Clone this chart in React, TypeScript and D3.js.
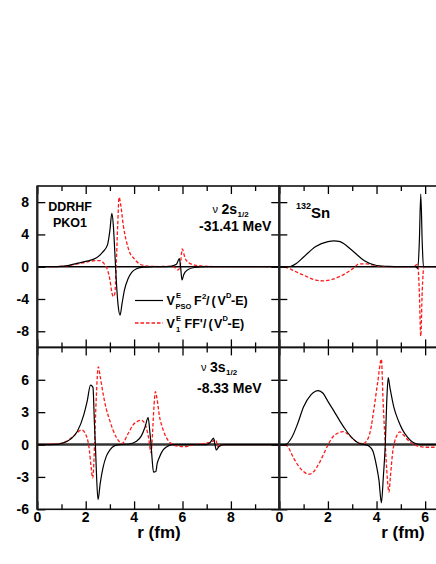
import React, { useRef, useEffect } from 'react';
import * as d3 from 'd3';

type Pt = [number, number];

// nu 2s1/2, r in fm, left panel
const tlBlack: Pt[] = [
  [0, 0], [0.8, 0.02], [1.2, 0.1], [1.63, 0.42], [2.0, 0.65], [2.45, 1.1], [2.7, 1.8], [2.9, 2.7],
  [3.0, 4.5], [3.08, 6.6], [3.14, 5.2], [3.2, 2.0], [3.26, -1.5], [3.34, -4.8], [3.42, -6.0],
  [3.5, -4.6], [3.6, -2.9], [3.75, -1.5], [3.9, -0.7], [4.1, -0.25], [4.4, -0.05], [4.8, 0],
  [5.5, 0.05], [5.75, 0.3], [5.87, 1.0], [5.92, 0], [5.98, -1.65], [6.05, -1.0], [6.2, -0.4],
  [6.5, -0.1], [7, 0], [10, 0],
];
const tlRed: Pt[] = [
  [0, 0], [0.8, 0.02], [1.2, 0.1], [1.6, 0.3], [2.0, 0.55], [2.4, 0.75], [2.6, 0.75], [2.75, 0.4],
  [2.9, -0.4], [3.0, -1.6], [3.08, -3.2], [3.14, -3.7], [3.2, -3.4], [3.26, 0], [3.32, 5.0],
  [3.38, 8.6], [3.45, 7.6], [3.55, 5.2], [3.67, 3.3], [3.8, 1.9], [4.0, 1.0], [4.2, 0.4],
  [4.5, 0.1], [5.0, 0.02], [5.6, 0.05], [5.82, -0.4], [5.9, 0], [5.99, 2.2], [6.1, 1.1],
  [6.25, 0.5], [6.5, 0.2], [7, 0.05], [7.5, 0], [10, 0],
];
// 132Sn, right panel
const trBlack: Pt[] = [
  [0, 0], [0.4, 0], [0.7, 0.4], [1.0, 1.2], [1.5, 2.5], [2.0, 3.1], [2.25, 3.2], [2.5, 3.1],
  [3.0, 2.0], [3.5, 0.75], [4.0, 0.15], [4.5, 0.03], [5.0, 0], [5.6, 0], [5.7, -0.2], [5.76, 3],
  [5.82, 9.0], [5.88, 3], [5.93, 0], [6.0, 0], [6.5, 0],
];
const trRed: Pt[] = [
  [0, 0], [0.3, -0.1], [0.6, -0.5], [1.0, -1.05], [1.5, -1.65], [1.8, -1.75], [2.1, -1.65],
  [2.5, -1.2], [3.0, -0.3], [3.3, 0.35], [3.6, 0.35], [4.0, 0.1], [4.5, 0], [5.5, 0],
  [5.69, 0.3], [5.76, -3], [5.82, -8.6], [5.88, -3], [5.95, 0], [6.5, 0],
];
// nu 3s1/2
const blBlack: Pt[] = [
  [0, 0], [0.8, 0.02], [1.0, 0.1], [1.38, 0.5], [1.65, 1.2], [1.92, 2.75], [2.06, 4.0], [2.2, 5.5],
  [2.3, 5.3], [2.36, 2], [2.4, 0], [2.45, -3], [2.51, -5.1], [2.6, -3.6], [2.72, -2.1],
  [2.85, -1.1], [3.0, -0.5], [3.2, -0.1], [3.4, 0], [3.8, 0.05], [4.1, 0.3], [4.3, 0.8],
  [4.45, 1.6], [4.58, 2.5], [4.65, 1.2], [4.7, 0], [4.75, -1.5], [4.8, -2.55], [4.9, -2.5],
  [4.95, -1.8], [5.05, -1.15], [5.2, -0.5], [5.35, -0.2], [5.6, 0], [7.0, 0], [7.15, 0.2],
  [7.28, 0.6], [7.34, 0], [7.4, -0.5], [7.5, -0.2], [7.7, 0], [10, 0],
];
const blRed: Pt[] = [
  [0, 0], [0.8, 0.05], [1.2, 0.3], [1.5, 0.8], [1.84, 1.35], [2.06, 0.6], [2.15, -0.5],
  [2.22, -2.0], [2.29, -3.1], [2.34, -1.5], [2.38, 1], [2.44, 4.5], [2.52, 7.2], [2.6, 6.3],
  [2.72, 4.7], [2.85, 3.3], [2.99, 2.26], [3.12, 1.4], [3.26, 0.7], [3.4, 0.25], [3.5, 0.1],
  [3.6, 0.3], [3.68, 0.7], [3.8, 1.2], [3.95, 1.8], [4.1, 2.1], [4.29, 2.26], [4.4, 2.1],
  [4.5, 1.6], [4.6, 0.6], [4.7, -0.75], [4.76, 1], [4.82, 3.5], [4.88, 4.9], [4.95, 4.2],
  [5.05, 2.6], [5.18, 1.5], [5.32, 0.7], [5.45, 0.25], [5.6, 0.02], [5.8, -0.15], [6.1, -0.2],
  [6.4, -0.05], [6.7, 0.05], [7.0, 0.15], [7.2, 0.25], [7.38, 0.45], [7.45, -0.2], [7.55, 0],
  [10, 0],
];
const brBlack: Pt[] = [
  [0, 0], [0.25, 0], [0.5, 0.6], [0.75, 1.9], [1.0, 3.5], [1.3, 4.6], [1.6, 5.0], [1.8, 4.75],
  [2.0, 4.0], [2.25, 3.1], [2.5, 2.15], [2.75, 1.3], [3.0, 0.6], [3.3, 0.1], [3.5, 0],
  [3.7, -0.15], [3.85, -0.6], [4.0, -2.0], [4.1, -3.3], [4.2, -5.4], [4.28, -3], [4.36, 0],
  [4.42, 4], [4.48, 6.2], [4.55, 5.3], [4.72, 3.4], [4.9, 2.2], [5.07, 1.36], [5.25, 0.75],
  [5.41, 0.35], [5.6, 0.1], [5.8, 0], [6.5, 0],
];
const brRed: Pt[] = [
  [0, 0], [0.3, -0.1], [0.6, -1.3], [0.9, -2.3], [1.22, -2.75], [1.4, -2.55], [1.6, -1.9],
  [1.8, -1.0], [2.0, -0.05], [2.2, 0.7], [2.4, 1.05], [2.62, 1.2], [2.8, 1.0], [3.0, 0.6],
  [3.15, 0.3], [3.3, 0.1], [3.45, 0.1], [3.6, 0.35], [3.75, 1.3], [3.9, 3.4], [4.05, 5.8],
  [4.2, 7.9], [4.27, 4], [4.36, 0], [4.44, -3], [4.51, -4.4], [4.57, -3.0], [4.66, -0.8],
  [4.75, 0.3], [4.85, 0.9], [4.96, 1.17], [5.1, 0.9], [5.3, 0.4], [5.5, 0.05], [5.7, -0.15],
  [6.0, -0.25], [6.5, -0.25],
];

const topYTicks = [-8, -4, 0, 4, 8];
const botYTicks = [-6, -3, 0, 3, 6];
const leftXMajor = [0, 2, 4, 6, 8];
const leftXMinor = [1, 3, 5, 7, 9];
const rightXMajor = [0, 2, 4, 6];
const rightXMinor = [1, 3, 5];

const FONT = 'Liberation Sans, Arial, sans-serif';

const App = () => {
  const ref = useRef<SVGSVGElement>(null);

  useEffect(() => {
    const svg = d3.select(ref.current);
    svg.selectAll('*').remove();

    const xL = d3.scaleLinear().domain([0, 10]).range([37.3, 279.3]);
    const xR = d3.scaleLinear().domain([0, 6.5]).range([279.3, 437.3]);
    const yT = d3.scaleLinear().domain([-10, 10]).range([347.4, 186]);
    const yB = d3.scaleLinear().domain([-6, 9]).range([509.3, 347.4]);

    const panels = [
      { id: 'tl', x: xL, y: yT, black: tlBlack, red: tlRed, zw: 1.5, zc: '#000', maj: leftXMajor, min: leftXMinor, yt: topYTicks },
      { id: 'tr', x: xR, y: yT, black: trBlack, red: trRed, zw: 1.5, zc: '#000', maj: rightXMajor, min: rightXMinor, yt: topYTicks },
      { id: 'bl', x: xL, y: yB, black: blBlack, red: blRed, zw: 2.6, zc: '#333', maj: leftXMajor, min: leftXMinor, yt: botYTicks },
      { id: 'br', x: xR, y: yB, black: brBlack, red: brRed, zw: 2.6, zc: '#333', maj: rightXMajor, min: rightXMinor, yt: botYTicks },
    ];

    const defs = svg.append('defs');

    panels.forEach((p) => {
      const [x0, x1] = p.x.range();
      const [y1, y0] = p.y.range();
      defs.append('clipPath').attr('id', `clip-${p.id}`)
        .append('rect').attr('x', x0).attr('y', y0).attr('width', x1 - x0).attr('height', y1 - y0);

      const g = svg.append('g').attr('clip-path', `url(#clip-${p.id})`);
      g.append('line')
        .attr('x1', x0).attr('x2', x1)
        .attr('y1', p.y(0)).attr('y2', p.y(0))
        .attr('stroke', p.zc).attr('stroke-width', p.zw);

      const line = d3.line<Pt>().x((d) => p.x(d[0])).y((d) => p.y(d[1])).curve(d3.curveMonotoneX);
      g.append('path').attr('d', line(p.red)).attr('fill', 'none')
        .attr('stroke', '#ff1a1a').attr('stroke-width', 1.3).attr('stroke-dasharray', '3.5,2');
      g.append('path').attr('d', line(p.black)).attr('fill', 'none')
        .attr('stroke', '#000').attr('stroke-width', 1.2);

      // ticks
      const tk = (axis: d3.Axis<d3.NumberValue>, t: string) => {
        const a = svg.append('g').attr('transform', t).call(axis);
        a.select('.domain').remove();
        a.selectAll('line').attr('stroke', '#000').attr('stroke-width', 1.3);
        a.selectAll('text').remove();
      };
      tk(d3.axisBottom(p.x).tickValues(p.maj).tickSize(-8), `translate(0,${y1})`);
      tk(d3.axisBottom(p.x).tickValues(p.min).tickSize(-5), `translate(0,${y1})`);
      tk(d3.axisTop(p.x).tickValues(p.maj).tickSize(-8), `translate(0,${y0})`);
      tk(d3.axisTop(p.x).tickValues(p.min).tickSize(-5), `translate(0,${y0})`);
      tk(d3.axisLeft(p.y).tickValues(p.yt).tickSize(-8), `translate(${x0},0)`);
      if (p.x === xL) tk(d3.axisRight(p.y).tickValues(p.yt).tickSize(-8), `translate(${x1},0)`);

      // frame
      svg.append('rect').attr('x', x0).attr('y', y0).attr('width', x1 - x0).attr('height', y1 - y0)
        .attr('fill', 'none').attr('stroke', '#111').attr('stroke-width', 1.6);
    });

    // heavier vertical axes
    svg.append('line').attr('x1', 37.3).attr('x2', 37.3).attr('y1', 186).attr('y2', 509.3)
      .attr('stroke', '#222').attr('stroke-width', 2.2);
    svg.append('line').attr('x1', 279.3).attr('x2', 279.3).attr('y1', 186).attr('y2', 509.3)
      .attr('stroke', '#222').attr('stroke-width', 2.2);

    // tick labels
    const txt = svg.append('g').attr('font-family', FONT).attr('font-weight', 'bold').attr('fill', '#000');
    txt.selectAll('.yt').data(topYTicks).enter().append('text')
      .attr('x', 29).attr('y', (d) => yT(d) + 5).attr('text-anchor', 'end').attr('font-size', 14)
      .text((d) => d);
    txt.selectAll('.yb').data(botYTicks).enter().append('text')
      .attr('x', 29).attr('y', (d) => yB(d) + 5).attr('text-anchor', 'end').attr('font-size', 14)
      .text((d) => d);
    txt.selectAll('.xl').data(leftXMajor).enter().append('text')
      .attr('x', (d) => xL(d)).attr('y', 522).attr('text-anchor', 'middle').attr('font-size', 14)
      .text((d) => d);
    txt.selectAll('.xr').data(rightXMajor).enter().append('text')
      .attr('x', (d) => xR(d)).attr('y', 522).attr('text-anchor', 'middle').attr('font-size', 14)
      .text((d) => d);

    txt.append('text').attr('x', 159).attr('y', 538).attr('text-anchor', 'middle').attr('font-size', 17).text('r (fm)');
    txt.append('text').attr('x', 403).attr('y', 538).attr('text-anchor', 'middle').attr('font-size', 17).text('r (fm)');

    const put = (s: string, x: number, y: number, size: number, w = 'bold', anchor = 'start') =>
      txt.append('text').attr('x', x).attr('y', y).attr('font-size', size).attr('font-weight', w)
        .attr('text-anchor', anchor).text(s);

    put('DDRHF', 70, 211, 12.5, 'bold', 'middle');
    put('PKO1', 70, 227, 12.5, 'bold', 'middle');

    put('ν', 212.5, 213, 11, 'normal');
    put('2s', 221.5, 214, 14);
    put('1/2', 237.5, 217, 8);
    put('-31.41 MeV', 199, 231, 14);

    put('132', 296, 209, 9);
    put('Sn', 311, 218, 15);

    put('ν', 201, 371, 11, 'normal');
    put('3s', 210, 372, 14);
    put('1/2', 226, 375, 8);
    put('-8.33 MeV', 197, 393, 14);

    // legend
    svg.append('line').attr('x1', 135).attr('x2', 163).attr('y1', 300.5).attr('y2', 300.5)
      .attr('stroke', '#000').attr('stroke-width', 1.2);
    svg.append('line').attr('x1', 135).attr('x2', 163).attr('y1', 323).attr('y2', 323)
      .attr('stroke', '#ff1a1a').attr('stroke-width', 1.3).attr('stroke-dasharray', '3.5,2');

    put('V', 166.5, 305, 12.5);
    put('E', 176, 298, 7.5);
    put('PSO', 175.5, 309, 7.5);
    put('F', 194, 305, 12.5);
    put('2', 202, 299, 8);
    put('/', 206, 305, 12.5);
    put('(', 211.5, 305, 12.5);
    put('V', 217.5, 305, 12.5);
    put('D', 226, 298, 7.5);
    put('-E)', 231, 305, 12.5);

    put('V', 166.5, 328, 12.5);
    put('E', 176, 321, 7.5);
    put('1', 176, 332, 7.5);
    put("FF'", 184.5, 328, 12.5);
    put('/', 203, 328, 12.5);
    put('(', 208.5, 328, 12.5);
    put('V', 214, 328, 12.5);
    put('D', 222.5, 321, 7.5);
    put('-E)', 227.5, 328, 12.5);
  }, []);

  return <svg ref={ref} width={436} height={564} style={{ position: 'absolute', left: 0, top: 0, background: '#fff' }} />;
};

export default App;
